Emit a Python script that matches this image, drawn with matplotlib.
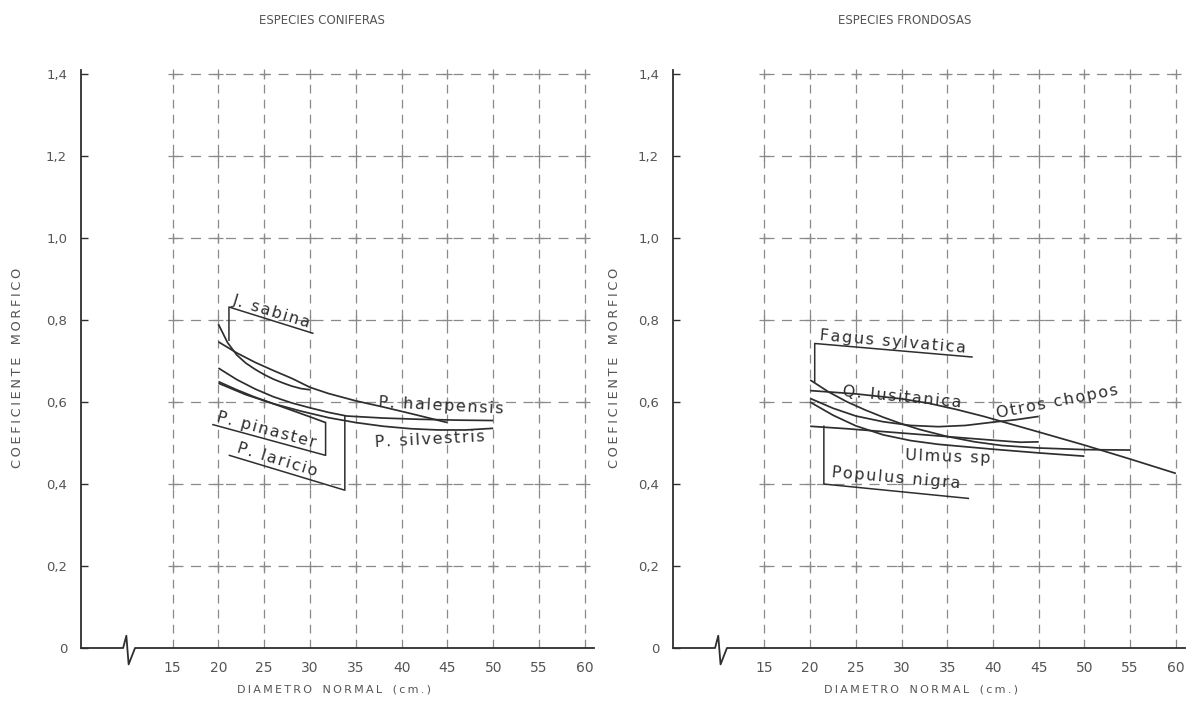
import numpy as np
import matplotlib.pyplot as plt

# ---------------- data ----------------
# left panel: coniferas
sabina_d = [20, 21, 22, 23, 24, 25, 26, 27, 28, 29, 30]
sabina_c = [0.79, 0.745, 0.715, 0.695, 0.68, 0.667, 0.656, 0.647, 0.639, 0.633, 0.63]

halepensis_d = [20, 22, 24, 26, 28, 30, 32, 35, 38, 41, 45]
halepensis_c = [0.747, 0.72, 0.697, 0.677, 0.658, 0.636, 0.621, 0.603, 0.588, 0.572, 0.55]

laricio_d = [20, 22, 24, 26, 28, 30, 32, 34, 38, 42, 46, 50]
laricio_c = [0.683, 0.655, 0.632, 0.613, 0.598, 0.586, 0.575, 0.566, 0.561, 0.558, 0.556, 0.555]

silvestris_d = [20, 23, 26, 29, 32, 35, 38, 41, 44, 47, 50]
silvestris_c = [0.646, 0.618, 0.596, 0.578, 0.562, 0.55, 0.541, 0.535, 0.532, 0.532, 0.536]

pinaster_d = [20, 22, 24, 26, 28, 30, 31.7]
pinaster_c = [0.65, 0.63, 0.612, 0.596, 0.58, 0.564, 0.55]

# right panel: frondosas
fagus_d = [20, 22, 24, 26, 28, 30, 32, 35, 38, 41, 45, 50, 55]
fagus_c = [0.654, 0.625, 0.601, 0.581, 0.563, 0.547, 0.533, 0.516, 0.503, 0.494, 0.488, 0.484, 0.483]

qlus_d = [20, 25, 30, 33, 36, 39, 42, 45, 50, 55, 60]
qlus_c = [0.628, 0.62, 0.608, 0.597, 0.582, 0.565, 0.546, 0.527, 0.495, 0.461, 0.426]

otros_d = [20, 22.5, 25, 28, 31, 34, 37, 40, 42.5, 45]
otros_c = [0.609, 0.585, 0.566, 0.552, 0.543, 0.54, 0.543, 0.551, 0.557, 0.565]

ulmus_d = [20, 22.5, 25, 28, 31, 34, 37, 40, 45, 50]
ulmus_c = [0.60, 0.568, 0.542, 0.52, 0.506, 0.497, 0.491, 0.485, 0.476, 0.468]

populus_d = [20, 24, 28, 32, 36, 40, 43, 45]
populus_c = [0.541, 0.535, 0.528, 0.521, 0.514, 0.507, 0.502, 0.503]

x_ticks = [15, 20, 25, 30, 35, 40, 45, 50, 55, 60]
y_ticks = [0, 0.2, 0.4, 0.6, 0.8, 1.0, 1.2, 1.4]
y_ticklabels = ['0', '0,2', '0,4', '0,6', '0,8', '1,0', '1,2', '1,4']

# ---------------- style ----------------
INK = '#2e2e2e'
GRID = '#8a8a8a'
TXT = '#555555'
FONT = 'DejaVu Sans'


def spaced(s, sep='\u2009'):
    return sep.join(s)


def setup_axes(ax):
    ax.set_xlim(5, 61)
    ax.set_ylim(0, 1.42)
    for s in ['top', 'right', 'bottom']:
        ax.spines[s].set_visible(False)
    ax.spines['left'].set_bounds(0, 1.41)
    ax.spines['left'].set_color(INK)
    ax.spines['left'].set_linewidth(1.3)

    # dashed grid
    ax.vlines(x_ticks, 0, 1.4, colors=GRID, linewidth=0.9, linestyles=(0, (7, 5)))
    ax.hlines(y_ticks[1:], 15, 60, colors=GRID, linewidth=0.9, linestyles=(0, (8, 6)))
    gx, gy = np.meshgrid(x_ticks, y_ticks[1:])
    ax.plot(gx.ravel(), gy.ravel(), '+', color=GRID, ms=7, mew=0.9)

    # broken x-axis line
    ax.plot([5, 9.6, 9.95, 10.2, 10.9, 61], [0, 0, 0.03, -0.04, 0, 0],
            color=INK, lw=1.3, clip_on=False, solid_joinstyle='round')

    ax.set_xticks(x_ticks)
    ax.set_xticklabels([str(v) for v in x_ticks])
    ax.set_yticks(y_ticks)
    ax.set_yticklabels(y_ticklabels)
    ax.tick_params(axis='x', length=0, pad=9, labelsize=10, labelcolor=TXT)
    ax.tick_params(axis='y', direction='in', length=5, width=1, color=INK,
                   pad=10, labelsize=9.5, labelcolor=TXT)


def curve(ax, d, c):
    ax.plot(d, c, color=INK, lw=1.25, solid_capstyle='butt')


def leader(ax, pts):
    xs, ys = zip(*pts)
    ax.plot(xs, ys, color=INK, lw=1.1)


def label(ax, x, y, s, rot):
    ax.text(x, y, spaced(s, '\u200a'), rotation=rot, rotation_mode='anchor',
            ha='left', va='baseline', fontsize=11.5, color=INK, family=FONT)


fig = plt.figure(figsize=(11.94, 7.19), dpi=100)
ax1 = fig.add_axes([81 / 1194, 71 / 719, 513 / 1194, 582 / 719])
ax2 = fig.add_axes([673 / 1194, 71 / 719, 512 / 1194, 582 / 719])

for ax in (ax1, ax2):
    setup_axes(ax)

# ---- left panel ----
curve(ax1, sabina_d, sabina_c)
curve(ax1, halepensis_d, halepensis_c)
curve(ax1, laricio_d, laricio_c)
curve(ax1, silvestris_d, silvestris_c)
curve(ax1, pinaster_d, pinaster_c)

leader(ax1, [(21.15, 0.751), (21.15, 0.832), (30.3, 0.768)])
leader(ax1, [(31.7, 0.55), (31.7, 0.47), (19.4, 0.545)])
leader(ax1, [(33.8, 0.566), (33.8, 0.385), (21.2, 0.47)])

label(ax1, 21.5, 0.84, 'J. sabina', -17)
label(ax1, 19.7, 0.553, 'P. pinaster', -15)
label(ax1, 21.9, 0.478, 'P. laricio', -17)
label(ax1, 37.4, 0.588, 'P. halepensis', -3)
label(ax1, 37.05, 0.49, 'P. silvestris', 3)

# ---- right panel ----
curve(ax2, fagus_d, fagus_c)
curve(ax2, qlus_d, qlus_c)
curve(ax2, otros_d, otros_c)
curve(ax2, ulmus_d, ulmus_c)
curve(ax2, populus_d, populus_c)

leader(ax2, [(20.5, 0.65), (20.5, 0.743), (37.7, 0.71)])
leader(ax2, [(21.5, 0.541), (21.5, 0.40), (37.3, 0.365)])

label(ax2, 21.0, 0.751, 'Fagus sylvatica', -5)
label(ax2, 23.5, 0.615, 'Q. lusitanica', -5.5)
label(ax2, 40.5, 0.561, 'Otros chopos', 11)
label(ax2, 30.4, 0.459, 'Ulmus sp', -2)
label(ax2, 22.3, 0.417, 'Populus nigra', -5)

# ---- titles and axis names ----
for cx, title in [(322, 'ESPECIES CONIFERAS'), (905, 'ESPECIES FRONDOSAS')]:
    fig.text(cx / 1194, 1 - 20 / 719, title, ha='center', va='center',
             fontsize=8.5, color=TXT, family=FONT)
for cx in (334, 921):
    fig.text(cx / 1194, 1 - 690 / 719, spaced('DIAMETRO') + '   ' + spaced('NORMAL') + '   ' + spaced('(cm.)'),
             ha='center', va='center', fontsize=8, color=TXT, family=FONT)
for cx in (18, 614):
    fig.text(cx / 1194, 1 - 368 / 719, spaced('COEFICIENTE') + '   ' + spaced('MORFICO'),
             ha='center', va='center', rotation=90, fontsize=9.3, color=TXT, family=FONT)

fig.savefig('out.png', dpi=100)
